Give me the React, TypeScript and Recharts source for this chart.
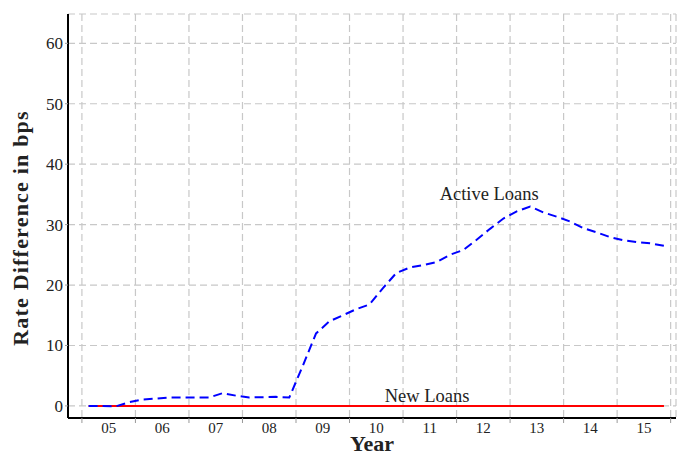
import React from 'react';
import {
  LineChart,
  Line,
  XAxis,
  YAxis,
  CartesianGrid,
  ReferenceDot,
} from 'recharts';

// Quarter positions (year fractions, mid-quarter)
const quarterPos = [
  2005.125, 2005.375, 2005.625, 2005.875,
  2006.125, 2006.375, 2006.625, 2006.875,
  2007.125, 2007.375, 2007.625, 2007.875,
  2008.125, 2008.375, 2008.625, 2008.875,
  2009.125, 2009.375, 2009.625, 2009.875,
  2010.125, 2010.375, 2010.625, 2010.875,
  2011.125, 2011.375, 2011.625, 2011.875,
  2012.125, 2012.375, 2012.625, 2012.875,
  2013.125, 2013.375, 2013.625, 2013.875,
  2014.125, 2014.375, 2014.625, 2014.875,
  2015.125, 2015.375, 2015.625, 2015.875,
];

// Active Loans rate difference (bps)
const activeLoans = [
  0.0, 0.0, -0.1, 0.6,
  1.05, 1.2, 1.4, 1.4,
  1.4, 1.4, 2.1, 1.7,
  1.4, 1.45, 1.5, 1.4,
  6.6, 12.0, 14.0, 15.0,
  16.0, 16.8, 19.5, 22.0,
  22.9, 23.3, 23.8, 25.0,
  25.8, 27.5, 29.3, 31.0,
  32.2, 33.0, 32.0, 31.3,
  30.5, 29.4, 28.7, 27.9,
  27.4, 27.1, 26.9, 26.5,
];

// New Loans rate difference (bps)
const newLoans = [
  0, 0, 0, 0,
  0, 0, 0, 0,
  0, 0, 0, 0,
  0, 0, 0, 0,
  0, 0, 0, 0,
  0, 0, 0, 0,
  0, 0, 0, 0,
  0, 0, 0, 0,
  0, 0, 0, 0,
  0, 0, 0, 0,
  0, 0, 0, 0,
];

// Year boundaries (grid lines) and year centres (tick labels)
const yearBoundaries = [2005, 2006, 2007, 2008, 2009, 2010, 2011, 2012, 2013, 2014, 2015, 2016];
const yearCentres = [2005.5, 2006.5, 2007.5, 2008.5, 2009.5, 2010.5, 2011.5, 2012.5, 2013.5, 2014.5, 2015.5];
const yearLabels = ['05', '06', '07', '08', '09', '10', '11', '12', '13', '14', '15'];

const yTicks = [0, 10, 20, 30, 40, 50, 60];

const data = quarterPos.map((q, i) => ({ t: q, active: activeLoans[i], newl: newLoans[i] }));

const FONT = '"Liberation Serif", "Times New Roman", serif';
const TEXT = '#222';

const YTitle = (props: any) => {
  const vb = props.viewBox;
  const cx = vb.x + 20;
  const cy = vb.y + vb.height / 2 + 12;
  return (
    <text
      x={cx}
      y={cy}
      transform={`rotate(-90 ${cx} ${cy})`}
      textAnchor="middle"
      dominantBaseline="central"
      fontFamily={FONT}
      fontWeight="bold"
      fontSize={22}
      letterSpacing={1.2}
      fill={TEXT}
    >
      Rate Difference in bps
    </text>
  );
};

const XTitle = (props: any) => {
  const vb = props.viewBox;
  return (
    <text
      x={vb.x + vb.width / 2}
      y={vb.y + vb.height - 4}
      textAnchor="middle"
      fontFamily={FONT}
      fontWeight="bold"
      fontSize={22}
      fill={TEXT}
    >
      Year
    </text>
  );
};

const XTick = (props: any) => {
  const { x, y, payload } = props;
  const idx = yearCentres.indexOf(payload.value);
  return (
    <text x={x} y={y + 11} textAnchor="middle" fontFamily={FONT} fontSize={15} fill={TEXT}>
      {idx >= 0 ? yearLabels[idx] : ''}
    </text>
  );
};

const YTick = (props: any) => {
  const { x, y, payload } = props;
  return (
    <text x={x} y={y + 6} textAnchor="end" fontFamily={FONT} fontSize={17} fill={TEXT}>
      {payload.value}
    </text>
  );
};

export default function App() {
  return (
    <div style={{ position: 'absolute', left: 0, top: 0, width: 698, height: 455, background: '#fff', fontFamily: FONT }}>
      <LineChart
        width={698}
        height={455}
        data={data}
        margin={{ top: 14, right: 22, bottom: 0, left: 0 }}
      >
        <CartesianGrid
          xAxisId="grid"
          stroke="#c8c8c8"
          strokeWidth={1.2}
          strokeDasharray="7 4"
        />
        <XAxis
          xAxisId="grid"
          dataKey="t"
          type="number"
          domain={[2004.74, 2016.1]}
          ticks={yearBoundaries}
          tickFormatter={() => ''}
          tickSize={5}
          tickLine={{ stroke: '#999', strokeWidth: 1 }}
          axisLine={{ stroke: '#000', strokeWidth: 2 }}
          height={4}
          allowDataOverflow
        />
        <XAxis
          xAxisId="lbl"
          dataKey="t"
          type="number"
          domain={[2004.74, 2016.1]}
          ticks={yearCentres}
          tick={<XTick />}
          tickLine={false}
          axisLine={false}
          tickSize={0}
          tickMargin={0}
          height={33}
          allowDataOverflow
          label={{ content: XTitle }}
        />
        <YAxis
          type="number"
          domain={[-2, 64.85]}
          ticks={yTicks}
          width={68}
          tick={<YTick />}
          tickSize={3}
          tickMargin={2}
          tickLine={{ stroke: '#999', strokeWidth: 1 }}
          axisLine={{ stroke: '#000', strokeWidth: 2 }}
          allowDataOverflow
          label={{ content: YTitle }}
        />
        <Line
          xAxisId="grid"
          type="linear"
          dataKey="newl"
          stroke="#ff0000"
          strokeWidth={2}
          dot={false}
          isAnimationActive={false}
        />
        <Line
          xAxisId="grid"
          type="linear"
          dataKey="active"
          stroke="#0000ff"
          strokeWidth={2}
          strokeDasharray="9 5"
          dot={false}
          isAnimationActive={false}
        />
        <ReferenceDot
          xAxisId="grid"
          x={2012.61}
          y={35.1}
          r={0}
          fill="none"
          stroke="none"
          label={{ value: 'Active Loans', position: 'center', fontFamily: FONT, fontSize: 18.5, fill: TEXT }}
        />
        <ReferenceDot
          xAxisId="grid"
          x={2011.45}
          y={1.8}
          r={0}
          fill="none"
          stroke="none"
          label={{ value: 'New Loans', position: 'center', fontFamily: FONT, fontSize: 18.5, fill: TEXT }}
        />
      </LineChart>
    </div>
  );
}
